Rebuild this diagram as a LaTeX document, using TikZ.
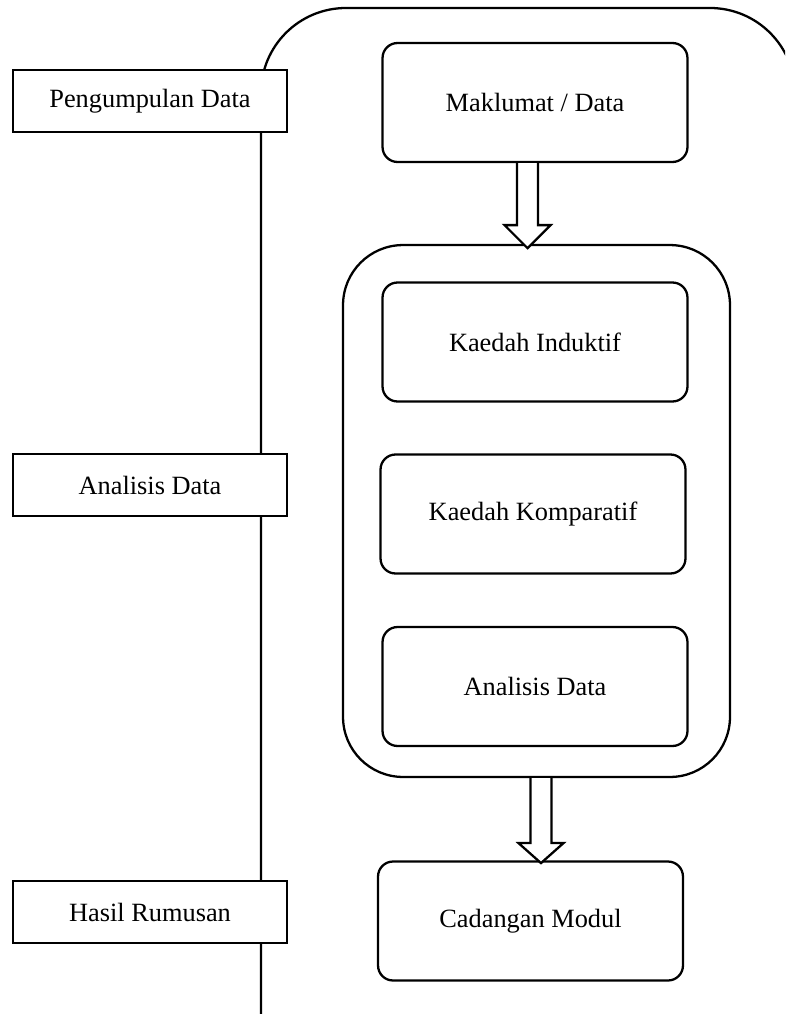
\documentclass[tikz,border=0pt]{standalone}
\usepackage{fontspec}
\setmainfont{Liberation Serif}
\usepackage{tikz}
\tikzset{>=latex}
\usetikzlibrary{calc}
\tikzset{
  sidebox/.style={draw, line width=1.3pt, fill=white, minimum width=5.48cm, minimum height=1.24cm, font=\fontsize{15}{18}\selectfont},
  stepbox/.style={draw, line width=1.3pt, rounded corners=0.3cm, fill=white, minimum width=6.1cm, minimum height=2.38cm, font=\fontsize{15}{18}\selectfont},
  groupbox/.style={draw, line width=1.3pt, rounded corners=1.2cm, minimum width=7.74cm, minimum height=10.64cm}
}

\begin{document}
\begin{tikzpicture}[x=0.02cm, y=-0.02cm]
    \useasboundingbox (0, 0) rectangle (785, 1014);
    \clip (0, 0) rectangle (785, 1014);
    % outer frame, its left side is the time line
    \draw[line width=1.3pt] (261, 1014) -- (261, 93) arc (180:270:85) -- (710, 8) arc (270:360:85) -- (795, 1014);
    % stages on the left
    \node[sidebox] (pengumpulan) at (150, 101) {Pengumpulan Data};
    \node[sidebox] (analisisL) at (150, 485) {Analisis Data};
    \node[sidebox] (hasil) at (150, 912) {Hasil Rumusan};
    % flow on the right
    \node[stepbox] (maklumat) at (535, 102.5) {Maklumat / Data};
    \node[groupbox] (kaedah) at (536.5, 511) {};
    \node[stepbox] (induktif) at (535, 342) {Kaedah Induktif};
    \node[stepbox] (komparatif) at (533, 514) {Kaedah Komparatif};
    \node[stepbox] (analisis) at (535, 686.5) {Analisis Data};
    \node[stepbox] (cadangan) at (530.5, 921) {Cadangan Modul};
    % hollow arrows
    \coordinate (a1) at ($(maklumat.south)+(-7.5, 0)$);
    \coordinate (a2) at ($(kaedah.south)+(4.5, 0)$);
    \draw[line width=1.3pt, fill=white] (a1) ++(-10.5, 0) -- ++(0, 62) -- ++(-12.5, 0) -- ++(23, 23) -- ++(23, -23) -- ++(-12.5, 0) -- ++(0, -62);
    \draw[line width=1.3pt, fill=white] (a2) ++(-10.5, 0) -- ++(0, 65) -- ++(-12, 0) -- ++(22.5, 20) -- ++(22.5, -20) -- ++(-12, 0) -- ++(0, -65);
  \end{tikzpicture}
\end{document}
